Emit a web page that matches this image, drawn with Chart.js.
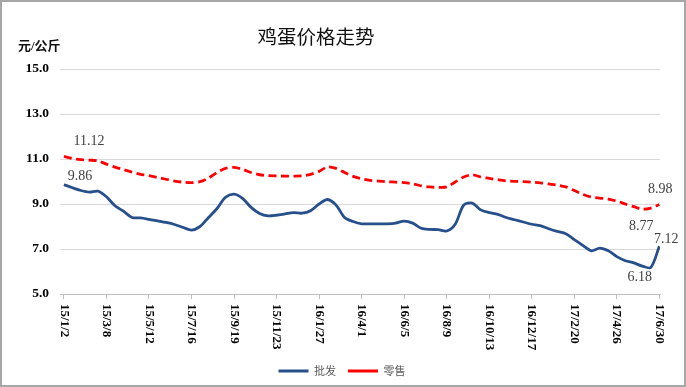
<!DOCTYPE html>
<html>
<head>
<meta charset="utf-8">
<script src="https://cdn.jsdelivr.net/npm/chart.js@4/dist/chart.umd.min.js"></script>
<style>
    html, body { margin: 0; padding: 0; background: #fff; }
    #frame {
        width: 686px;
        height: 387px;
        box-sizing: border-box;
        border: 2px solid #a6a6a6;
        background: #fff;
    }
    #box { position: relative; width: 682px; height: 383px; }
</style>
</head>
<body>
<div id="frame"><div id="box"><canvas id="eggChart"></canvas></div></div>
<script>
// Tick labels on the date axis (one every 65 days)
const tickLabels = ['15/1/2', '15/3/8', '15/5/12', '15/7/16', '15/9/19', '15/11/23', '16/1/27',
    '16/4/1', '16/6/5', '16/8/9', '16/10/13', '16/12/17', '17/2/20', '17/4/26', '17/6/30'];
const tickStepDays = 65;
// Readings taken every 13 days from 15/1/2
const sampleStepDays = 13;

// 批发 (wholesale), 元/公斤
const wholesale = [
    9.86, 9.72, 9.60, 9.53, 9.57, 9.32, 8.92, 8.68, 8.40, 8.38,
    8.32, 8.25, 8.18, 8.09, 7.96, 7.84, 8.00, 8.40, 8.80, 9.30,
    9.44, 9.25, 8.85, 8.58, 8.47, 8.50, 8.56, 8.62, 8.59, 8.70,
    9.00, 9.20, 8.95, 8.40, 8.22, 8.12, 8.12, 8.12, 8.12, 8.15,
    8.24, 8.15, 7.92, 7.87, 7.86, 7.80, 8.10, 8.95, 9.04, 8.74,
    8.62, 8.54, 8.40, 8.30, 8.20, 8.10, 8.04, 7.90, 7.78, 7.68,
    7.42, 7.16, 6.92, 7.04, 6.92, 6.66, 6.48, 6.38, 6.24, 6.18,
    7.12
];
// 零售 (retail), 元/公斤
const retail = [
    11.12, 11.02, 10.97, 10.95, 10.92, 10.77, 10.64, 10.53, 10.42, 10.32,
    10.26, 10.18, 10.10, 10.02, 9.97, 9.95, 9.99, 10.15, 10.40, 10.58,
    10.63, 10.54, 10.40, 10.30, 10.26, 10.25, 10.24, 10.24, 10.25, 10.32,
    10.45, 10.65, 10.58, 10.40, 10.23, 10.12, 10.05, 10.02, 9.99, 9.97,
    9.95, 9.90, 9.81, 9.76, 9.74, 9.76, 9.98, 10.20, 10.30, 10.20,
    10.14, 10.08, 10.03, 10.01, 9.99, 9.97, 9.94, 9.89, 9.84, 9.76,
    9.60, 9.43, 9.31, 9.26, 9.22, 9.13, 9.00, 8.88, 8.77, 8.82,
    8.98
];
const yTicks = [5, 7, 9, 11, 13, 15];

// Value callouts: [dataset, point index, dx, dy]
const callouts = [
    [1, 0, 25, -14.5],
    [0, 0, 16, -8],
    [1, 70, 1, -15],
    [1, 68, -1, 17.5],
    [0, 70, 7, -7],
    [0, 69, -11, 10]
];

const serif = "'Liberation Serif', 'Times New Roman', serif";
const cjk = "'Noto Sans CJK SC', sans-serif";

const toPoints = values => values.map((v, i) => ({ x: i * sampleStepDays, y: v }));

// Title, unit, rotated date labels and value callouts
const textPlugin = {
    id: 'textPlugin',
    afterDraw(chart) {
        const ctx = chart.ctx;
        const xs = chart.scales.x;
        ctx.save();

        ctx.fillStyle = '#111';
        ctx.font = '19.5px ' + cjk;
        ctx.textAlign = 'center';
        ctx.textBaseline = 'middle';
        ctx.fillText('鸡蛋价格走势', 314, 35);

        ctx.font = 'bold 13px ' + serif + ', ' + cjk;
        ctx.textAlign = 'left';
        ctx.fillText('元/公斤', 16, 45);

        ctx.font = 'bold 13px ' + serif;
        ctx.fillStyle = '#000';
        tickLabels.forEach((label, i) => {
            const px = xs.getPixelForValue(i * tickStepDays);
            ctx.save();
            ctx.translate(px, xs.top + 10);
            ctx.rotate(Math.PI / 2);
            ctx.textAlign = 'left';
            ctx.textBaseline = 'middle';
            ctx.fillText(label, 0, 0);
            ctx.restore();
        });

        ctx.font = '14px ' + serif;
        ctx.fillStyle = '#404040';
        ctx.textAlign = 'center';
        ctx.textBaseline = 'middle';
        callouts.forEach(([d, i, dx, dy]) => {
            const pt = chart.getDatasetMeta(d).data[i];
            const value = chart.data.datasets[d].data[i].y;
            ctx.fillText(value.toFixed(2), pt.x + dx, pt.y + dy);
        });
        ctx.restore();
    }
};

new Chart(document.getElementById('eggChart'), {
    type: 'line',
    data: {
        datasets: [
            {
                label: '批发',
                data: toPoints(wholesale),
                borderColor: '#264f8c',
                backgroundColor: '#264f8c',
                borderWidth: 2.8,
                pointRadius: 0,
                tension: 0.3,
                fill: false
            },
            {
                label: '零售',
                data: toPoints(retail),
                borderColor: '#ff0000',
                backgroundColor: '#ff0000',
                borderWidth: 2.8,
                borderDash: [8, 4.5],
                pointRadius: 0,
                tension: 0.3,
                fill: false
            }
        ]
    },
    options: {
        responsive: true,
        maintainAspectRatio: false,
        animation: false,
        layout: {
            padding: { top: 67, right: 24, bottom: -1.5, left: 22 }
        },
        plugins: {
            title: { display: false },
            tooltip: { enabled: false },
            legend: {
                display: true,
                position: 'bottom',
                labels: {
                    color: '#595959',
                    font: { family: cjk, size: 11 },
                    usePointStyle: true,
                    pointStyle: 'line',
                    pointStyleWidth: 30,
                    padding: 12
                }
            }
        },
        scales: {
            x: {
                type: 'linear',
                min: -6,
                max: 911,
                afterBuildTicks: scale => {
                    scale.ticks = tickLabels.map((t, i) => ({ value: i * tickStepDays }));
                },
                afterFit: scale => { scale.height = 59.5; },
                ticks: { display: false },
                grid: {
                    drawOnChartArea: false,
                    drawTicks: true,
                    tickLength: 5,
                    color: '#bfbfbf'
                },
                border: { display: true, color: '#bfbfbf', width: 1 }
            },
            y: {
                min: 5,
                max: 15,
                afterBuildTicks: scale => {
                    scale.ticks = yTicks.map(v => ({ value: v }));
                },
                afterFit: scale => { scale.width = 36; },
                ticks: {
                    padding: 11,
                    color: '#000',
                    font: { family: serif, size: 13.5, weight: 'bold' },
                    callback: v => v.toFixed(1)
                },
                grid: { color: '#d9d9d9', lineWidth: 1, drawTicks: false },
                border: { display: false }
            }
        }
    },
    plugins: [textPlugin]
});
</script>
</body>
</html>
